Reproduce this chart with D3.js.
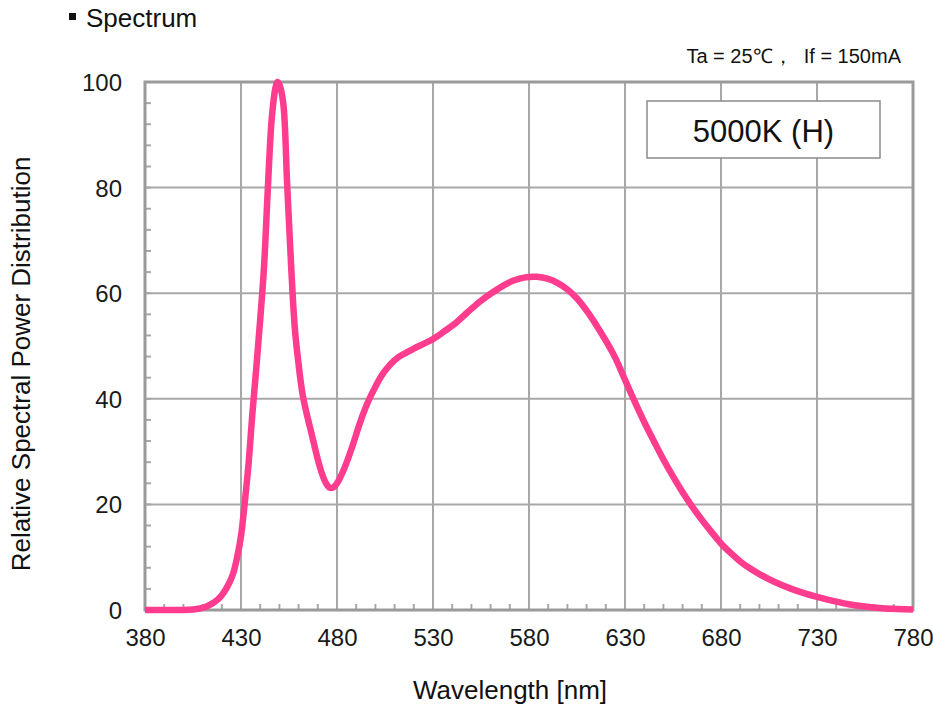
<!DOCTYPE html>
<html>
<head>
<meta charset="utf-8">
<script src="https://cdn.jsdelivr.net/npm/d3@7"></script>
<style>
  html, body { margin: 0; padding: 0; background: #fff; }
  svg { display: block; font-family: "Liberation Sans", Arial, sans-serif; }
</style>
</head>
<body>
<svg id="chart" width="933" height="711"></svg>
<script>
// Relative spectral power distribution, 5000K (H)
const wavelengths = [380, 390, 400, 405, 410, 414, 418, 421, 424, 426, 428, 430, 432, 434, 436, 438, 440, 442, 444, 446, 448, 449, 450, 452, 454, 456, 458, 460, 462, 464, 466, 468, 470, 472, 474, 476, 478, 480, 484, 488, 492, 496, 500, 504, 508, 512, 516, 520, 525, 530, 536, 542, 548, 554, 560, 566, 572, 578, 584, 590, 595, 600, 605, 610, 615, 620, 625, 630, 635, 640, 645, 650, 655, 660, 665, 670, 675, 680, 685, 690, 695, 700, 708, 716, 724, 732, 740, 748, 756, 764, 772, 780];
const power = [0, 0, 0, 0.1, 0.4, 1, 2, 3.3, 5.2, 7, 10, 14, 20.5, 28, 37.5, 46, 55, 65, 80, 93, 99, 100, 99.5, 96, 81, 66, 53.5, 46.5, 41, 37.5, 34.5, 31.5, 28.5, 26, 24.2, 23.2, 23.2, 24, 27, 31, 35.5, 39.3, 42.3, 44.8, 46.6, 47.9, 48.7, 49.5, 50.4, 51.3, 52.8, 54.4, 56.4, 58.3, 59.9, 61.3, 62.4, 63, 63.1, 62.7, 61.9, 60.7, 59.0, 56.7, 54.0, 51.0, 47.7, 43.6, 39.5, 35.6, 32.0, 28.5, 25.3, 22.3, 19.6, 17.1, 14.8, 12.6, 10.8, 9.2, 7.9, 6.8, 5.3, 4.1, 3.1, 2.3, 1.6, 1.0, 0.6, 0.35, 0.2, 0.1];

const xTicks = [380, 430, 480, 530, 580, 630, 680, 730, 780];
const yTicks = [0, 20, 40, 60, 80, 100];
const xMinorTicks = d3.range(380, 781, 10);
const yMinorTicks = d3.range(0, 101, 4);

const heading = "Spectrum";
const condition = "Ta = 25\u2103\uff0c\u00a0\u00a0If = 150mA";
const seriesLabel = "5000K (H)";
const xTitle = "Wavelength [nm]";
const yTitle = "Relative Spectral Power Distribution";

const svg = d3.select("#chart");
const plot = { left: 145, right: 913, top: 82, bottom: 610 };

const x = d3.scaleLinear().domain([380, 780]).range([plot.left, plot.right]);
const y = d3.scaleLinear().domain([0, 100]).range([plot.bottom, plot.top]);

const gridColor = "#a8a8a8";
const frameColor = "#9a9a9a";
const textColor = "#111";

// grid
const grid = svg.append("g");
grid.selectAll("line.vx").data(xTicks.slice(1, -1)).join("line")
  .attr("x1", d => x(d)).attr("x2", d => x(d))
  .attr("y1", plot.top).attr("y2", plot.bottom)
  .attr("stroke", gridColor).attr("stroke-width", 2);
grid.selectAll("line.hy").data(yTicks.slice(1, -1)).join("line")
  .attr("x1", plot.left).attr("x2", plot.right)
  .attr("y1", d => y(d)).attr("y2", d => y(d))
  .attr("stroke", gridColor).attr("stroke-width", 2);

// minor ticks pointing inward
grid.selectAll("line.mx").data(xMinorTicks).join("line")
  .attr("x1", d => x(d)).attr("x2", d => x(d))
  .attr("y1", plot.bottom).attr("y2", plot.bottom - 6)
  .attr("stroke", gridColor).attr("stroke-width", 2);
grid.selectAll("line.my").data(yMinorTicks).join("line")
  .attr("x1", plot.left).attr("x2", plot.left + 6)
  .attr("y1", d => y(d)).attr("y2", d => y(d))
  .attr("stroke", gridColor).attr("stroke-width", 2);

// frame
svg.append("rect")
  .attr("x", plot.left).attr("y", plot.top)
  .attr("width", plot.right - plot.left).attr("height", plot.bottom - plot.top)
  .attr("fill", "none").attr("stroke", frameColor).attr("stroke-width", 3);

// tick labels via d3 axes
const xAxis = svg.append("g")
  .attr("transform", `translate(0,${plot.bottom})`)
  .call(d3.axisBottom(x).tickValues(xTicks).tickSize(0).tickPadding(19).tickFormat(d3.format("d")));
const yAxis = svg.append("g")
  .attr("transform", `translate(${plot.left},0)`)
  .call(d3.axisLeft(y).tickValues(yTicks).tickSize(0).tickPadding(23).tickFormat(d3.format("d")));
[xAxis, yAxis].forEach(a => {
  a.select(".domain").remove();
  a.selectAll("text").attr("font-size", 24).attr("fill", "#1a1a1a")
    .attr("font-family", "'Liberation Sans', Arial, sans-serif");
});
yAxis.selectAll("text").attr("dy", "0.35em");

// spectrum curve
const pts = wavelengths.map((w, i) => [w, power[i]]);
const line = d3.line().x(d => x(d[0])).y(d => y(d[1])).curve(d3.curveCatmullRom.alpha(0.5));
svg.append("path")
  .datum(pts)
  .attr("d", line)
  .attr("fill", "none")
  .attr("stroke", "#ff3c8e")
  .attr("stroke-width", 6.5)
  .attr("stroke-linejoin", "round")
  .attr("stroke-linecap", "butt");

// series label box
svg.append("rect")
  .attr("x", 647).attr("y", 101).attr("width", 233).attr("height", 57)
  .attr("fill", "#fff").attr("stroke", "#8a8a8a").attr("stroke-width", 1.5);
svg.append("text")
  .attr("x", 763.5).attr("y", 142)
  .attr("text-anchor", "middle").attr("font-size", 31).attr("fill", textColor)
  .text(seriesLabel);

// heading
svg.append("rect").attr("x", 69).attr("y", 13).attr("width", 7).attr("height", 7).attr("fill", textColor);
svg.append("text").attr("x", 86).attr("y", 27).attr("font-size", 26).attr("fill", textColor).text(heading);

// measurement condition
svg.append("text").attr("x", 901).attr("y", 63).attr("text-anchor", "end")
  .attr("font-size", 20).attr("fill", textColor).text(condition);

// axis titles
svg.append("text").attr("x", 510).attr("y", 699).attr("text-anchor", "middle")
  .attr("font-size", 26).attr("fill", textColor).text(xTitle);
svg.append("text")
  .attr("transform", "translate(30,364) rotate(-90)")
  .attr("text-anchor", "middle").attr("font-size", 26).attr("fill", textColor).text(yTitle);
</script>
</body>
</html>
